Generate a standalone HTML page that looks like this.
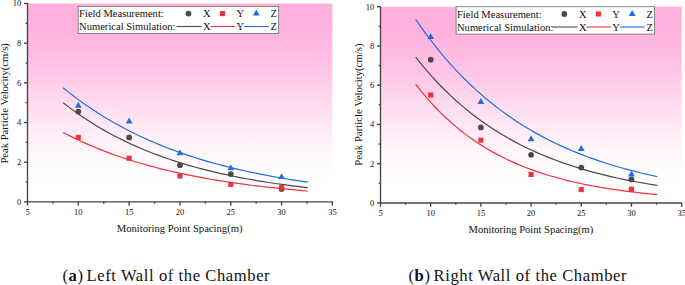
<!DOCTYPE html>
<html><head><meta charset="utf-8"><title>chart</title>
<style>
html,body{margin:0;padding:0;background:#fff;}
body{width:685px;height:285px;overflow:hidden;}
svg{display:block;}
text{font-family:"Liberation Serif",serif;fill:#111;}
</style></head><body>
<svg width="685" height="285" viewBox="0 0 685 285">
<defs>
<linearGradient id="pg" x1="0" y1="0" x2="0" y2="1">
<stop offset="0.0" stop-color="#ffb0dc"/>
<stop offset="0.0625" stop-color="#ffb1dc"/>
<stop offset="0.125" stop-color="#ffb3dd"/>
<stop offset="0.1875" stop-color="#ffb7df"/>
<stop offset="0.25" stop-color="#ffbde2"/>
<stop offset="0.3125" stop-color="#ffc3e5"/>
<stop offset="0.375" stop-color="#ffcbe8"/>
<stop offset="0.4375" stop-color="#ffd3eb"/>
<stop offset="0.5" stop-color="#ffdbef"/>
<stop offset="0.5625" stop-color="#ffe3f2"/>
<stop offset="0.625" stop-color="#ffeaf6"/>
<stop offset="0.6875" stop-color="#fff1f9"/>
<stop offset="0.75" stop-color="#fff7fb"/>
<stop offset="0.8125" stop-color="#fffbfd"/>
<stop offset="0.875" stop-color="#fffefe"/>
<stop offset="0.9375" stop-color="#ffffff"/>
<stop offset="1.0" stop-color="#ffffff"/>
</linearGradient>
</defs>

<g>
<rect x="27.5" y="3.5" width="304.9" height="198.35" fill="url(#pg)"/>
<polyline fill="none" stroke="#4a4a4a" stroke-width="1.2" points="63.07,102.67 68.17,106.61 73.26,110.39 78.36,114.02 83.46,117.5 88.55,120.85 93.65,124.07 98.75,127.15 103.84,130.12 108.94,132.96 114.04,135.7 119.13,138.32 124.23,140.84 129.33,143.26 134.42,145.59 139.52,147.82 144.62,149.97 149.71,152.02 154.81,154 159.9,155.9 165,157.72 170.1,159.47 175.19,161.16 180.29,162.77 185.39,164.32 190.48,165.81 195.58,167.24 200.68,168.61 205.77,169.93 210.87,171.2 215.97,172.42 221.06,173.58 226.16,174.71 231.26,175.78 236.35,176.82 241.45,177.81 246.55,178.76 251.64,179.68 256.74,180.56 261.83,181.41 266.93,182.22 272.03,183 277.12,183.74 282.22,184.46 287.32,185.15 292.41,185.82 297.51,186.45 302.61,187.06 307.7,187.65"/>
<polyline fill="none" stroke="#f0323c" stroke-width="1.2" points="63.07,132.43 68.17,135.06 73.26,137.59 78.36,140.03 83.46,142.38 88.55,144.63 93.65,146.8 98.75,148.89 103.84,150.9 108.94,152.83 114.04,154.69 119.13,156.48 124.23,158.2 129.33,159.86 134.42,161.45 139.52,162.98 144.62,164.45 149.71,165.87 154.81,167.24 159.9,168.55 165,169.81 170.1,171.03 175.19,172.2 180.29,173.32 185.39,174.4 190.48,175.45 195.58,176.45 200.68,177.41 205.77,178.34 210.87,179.23 215.97,180.09 221.06,180.91 226.16,181.71 231.26,182.47 236.35,183.21 241.45,183.91 246.55,184.59 251.64,185.25 256.74,185.88 261.83,186.48 266.93,187.07 272.03,187.63 277.12,188.17 282.22,188.69 287.32,189.18 292.41,189.66 297.51,190.13 302.61,190.57 307.7,191"/>
<polyline fill="none" stroke="#1f6ee0" stroke-width="1.2" points="63.07,87.8 68.17,91.89 73.26,95.84 78.36,99.64 83.46,103.31 88.55,106.85 93.65,110.26 98.75,113.54 103.84,116.71 108.94,119.77 114.04,122.71 119.13,125.55 124.23,128.29 129.33,130.93 134.42,133.48 139.52,135.93 144.62,138.3 149.71,140.58 154.81,142.78 159.9,144.9 165,146.94 170.1,148.91 175.19,150.81 180.29,152.64 185.39,154.41 190.48,156.11 195.58,157.75 200.68,159.34 205.77,160.86 210.87,162.33 215.97,163.75 221.06,165.12 226.16,166.44 231.26,167.71 236.35,168.93 241.45,170.11 246.55,171.25 251.64,172.35 256.74,173.41 261.83,174.43 266.93,175.41 272.03,176.36 277.12,177.28 282.22,178.16 287.32,179.01 292.41,179.83 297.51,180.62 302.61,181.38 307.7,182.12"/>
<circle cx="78.32" cy="111.6" r="2.9" fill="#4a4a4a"/>
<circle cx="129.13" cy="137.39" r="2.9" fill="#4a4a4a"/>
<circle cx="179.95" cy="165.16" r="2.9" fill="#4a4a4a"/>
<circle cx="230.77" cy="174.08" r="2.9" fill="#4a4a4a"/>
<circle cx="281.58" cy="188.96" r="2.9" fill="#4a4a4a"/>
<rect x="75.77" y="134.84" width="5.1" height="5.1" fill="#f0323c"/>
<rect x="126.58" y="155.66" width="5.1" height="5.1" fill="#f0323c"/>
<rect x="177.4" y="173.51" width="5.1" height="5.1" fill="#f0323c"/>
<rect x="228.22" y="181.85" width="5.1" height="5.1" fill="#f0323c"/>
<rect x="279.03" y="185.02" width="5.1" height="5.1" fill="#f0323c"/>
<polygon points="78.32,101.75 74.92,107.65 81.72,107.65" fill="#1f6ee0"/>
<polygon points="129.13,117.62 125.73,123.52 132.53,123.52" fill="#1f6ee0"/>
<polygon points="179.95,149.35 176.55,155.25 183.35,155.25" fill="#1f6ee0"/>
<polygon points="230.77,164.23 227.37,170.13 234.17,170.13" fill="#1f6ee0"/>
<polygon points="281.58,173.16 278.18,179.06 284.98,179.06" fill="#1f6ee0"/>
<g stroke="#444" stroke-width="1.35" fill="none">
<line x1="27.5" y1="3" x2="27.5" y2="202.35"/>
<line x1="27" y1="201.85" x2="332.9" y2="201.85"/>
<line x1="24" y1="201.85" x2="27.5" y2="201.85"/>
<line x1="25.7" y1="182.01" x2="27.5" y2="182.01"/>
<line x1="24" y1="162.18" x2="27.5" y2="162.18"/>
<line x1="25.7" y1="142.34" x2="27.5" y2="142.34"/>
<line x1="24" y1="122.51" x2="27.5" y2="122.51"/>
<line x1="25.7" y1="102.67" x2="27.5" y2="102.67"/>
<line x1="24" y1="82.84" x2="27.5" y2="82.84"/>
<line x1="25.7" y1="63" x2="27.5" y2="63"/>
<line x1="24" y1="43.17" x2="27.5" y2="43.17"/>
<line x1="25.7" y1="23.33" x2="27.5" y2="23.33"/>
<line x1="24" y1="3.5" x2="27.5" y2="3.5"/>
<line x1="27.5" y1="201.85" x2="27.5" y2="205.65"/>
<line x1="52.91" y1="201.85" x2="52.91" y2="203.65"/>
<line x1="78.32" y1="201.85" x2="78.32" y2="205.65"/>
<line x1="103.72" y1="201.85" x2="103.72" y2="203.65"/>
<line x1="129.13" y1="201.85" x2="129.13" y2="205.65"/>
<line x1="154.54" y1="201.85" x2="154.54" y2="203.65"/>
<line x1="179.95" y1="201.85" x2="179.95" y2="205.65"/>
<line x1="205.36" y1="201.85" x2="205.36" y2="203.65"/>
<line x1="230.77" y1="201.85" x2="230.77" y2="205.65"/>
<line x1="256.17" y1="201.85" x2="256.17" y2="203.65"/>
<line x1="281.58" y1="201.85" x2="281.58" y2="205.65"/>
<line x1="306.99" y1="201.85" x2="306.99" y2="203.65"/>
<line x1="332.4" y1="201.85" x2="332.4" y2="205.65"/>
</g>
<g font-size="8.5">
<text x="21.2" y="204.7" text-anchor="end">0</text>
<text x="21.2" y="165.03" text-anchor="end">2</text>
<text x="21.2" y="125.36" text-anchor="end">4</text>
<text x="21.2" y="85.69" text-anchor="end">6</text>
<text x="21.2" y="46.02" text-anchor="end">8</text>
<text x="21.2" y="6.35" text-anchor="end">10</text>
<text x="27.5" y="215.15" text-anchor="middle">5</text>
<text x="78.32" y="215.15" text-anchor="middle">10</text>
<text x="129.13" y="215.15" text-anchor="middle">15</text>
<text x="179.95" y="215.15" text-anchor="middle">20</text>
<text x="230.77" y="215.15" text-anchor="middle">25</text>
<text x="281.58" y="215.15" text-anchor="middle">30</text>
<text x="332.4" y="215.15" text-anchor="middle">35</text>
</g>
<text transform="translate(179.6,232.2) scale(1,1.07)" font-size="10.65" text-anchor="middle">Monitoring Point Spacing(m)</text>
<text transform="translate(7.8,103.4) rotate(-90)" font-size="10.6" text-anchor="middle">Peak Particle Velocity(cm/s)</text>
<rect x="78.2" y="6.4" width="200.4" height="27.1" fill="#fff" stroke="#7a7a7a" stroke-width="0.9"/>
<g font-size="10.55">
<text x="79.1" y="16.95">Field Measurement:</text>
<text x="79.1" y="30.05">Numerical Simulation:</text>
<text x="203.1" y="16.95">X</text>
<text x="203.1" y="30.05">X</text>
<text x="236.4" y="16.95">Y</text>
<text x="236.4" y="30.05">Y</text>
<text x="270.6" y="16.95">Z</text>
<text x="270.6" y="30.05">Z</text>
</g>
<circle cx="188.4" cy="13.6" r="2.9" fill="#4a4a4a"/>
<rect x="219.95" y="11.05" width="5.1" height="5.1" fill="#f0323c"/>
<polygon points="256.3,9.6 252.9,15.5 259.7,15.5" fill="#1f6ee0"/>
<line x1="176.4" y1="26.5" x2="201.6" y2="26.5" stroke="#4a4a4a" stroke-width="1.1"/>
<line x1="210.6" y1="26.5" x2="234.8" y2="26.5" stroke="#f0323c" stroke-width="1.1"/>
<line x1="244.2" y1="26.5" x2="268.7" y2="26.5" stroke="#1f6ee0" stroke-width="1.1"/>
<text x="62.4" y="281.1" font-size="16.6" letter-spacing="0.58">(<tspan font-weight="bold">a</tspan>)<tspan dx="-1.7"> Left Wall of the Chamber</tspan></text>
</g>
<g>
<rect x="380.5" y="6.7" width="301.15" height="196.25" fill="url(#pg)"/>
<polyline fill="none" stroke="#4a4a4a" stroke-width="1.2" points="415.63,57.14 420.67,63.43 425.7,69.45 430.74,75.21 435.77,80.72 440.8,85.99 445.84,91.04 450.87,95.87 455.9,100.49 460.94,104.91 465.97,109.14 471.01,113.19 476.04,117.06 481.07,120.77 486.11,124.31 491.14,127.7 496.18,130.95 501.21,134.06 506.24,137.03 511.28,139.87 516.31,142.6 521.34,145.2 526.38,147.69 531.41,150.08 536.45,152.36 541.48,154.54 546.51,156.63 551.55,158.63 556.58,160.54 561.61,162.37 566.65,164.12 571.68,165.8 576.72,167.4 581.75,168.93 586.78,170.4 591.82,171.81 596.85,173.15 601.88,174.43 606.92,175.66 611.95,176.84 616.99,177.97 622.02,179.05 627.05,180.08 632.09,181.06 637.12,182.01 642.16,182.91 647.19,183.78 652.22,184.6 657.26,185.4"/>
<polyline fill="none" stroke="#f0323c" stroke-width="1.2" points="415.63,84.22 420.67,90.6 425.7,96.64 430.74,102.35 435.77,107.76 440.8,112.88 445.84,117.72 450.87,122.3 455.9,126.63 460.94,130.73 465.97,134.62 471.01,138.29 476.04,141.76 481.07,145.05 486.11,148.16 491.14,151.11 496.18,153.89 501.21,156.53 506.24,159.03 511.28,161.39 516.31,163.62 521.34,165.73 526.38,167.73 531.41,169.63 536.45,171.42 541.48,173.11 546.51,174.72 551.55,176.23 556.58,177.67 561.61,179.03 566.65,180.31 571.68,181.53 576.72,182.68 581.75,183.77 586.78,184.8 591.82,185.78 596.85,186.7 601.88,187.57 606.92,188.4 611.95,189.18 616.99,189.92 622.02,190.62 627.05,191.29 632.09,191.91 637.12,192.51 642.16,193.07 647.19,193.6 652.22,194.1 657.26,194.58"/>
<polyline fill="none" stroke="#1f6ee0" stroke-width="1.2" points="415.63,19.26 420.67,26.54 425.7,33.54 430.74,40.26 435.77,46.71 440.8,52.9 445.84,58.85 450.87,64.56 455.9,70.05 460.94,75.32 465.97,80.38 471.01,85.24 476.04,89.91 481.07,94.39 486.11,98.7 491.14,102.83 496.18,106.8 501.21,110.61 506.24,114.27 511.28,117.79 516.31,121.17 521.34,124.41 526.38,127.52 531.41,130.51 536.45,133.39 541.48,136.14 546.51,138.79 551.55,141.34 556.58,143.78 561.61,146.13 566.65,148.38 571.68,150.54 576.72,152.62 581.75,154.62 586.78,156.53 591.82,158.37 596.85,160.14 601.88,161.84 606.92,163.47 611.95,165.03 616.99,166.54 622.02,167.98 627.05,169.37 632.09,170.7 637.12,171.98 642.16,173.21 647.19,174.39 652.22,175.52 657.26,176.61"/>
<circle cx="430.69" cy="59.69" r="2.9" fill="#4a4a4a"/>
<circle cx="480.88" cy="127.39" r="2.9" fill="#4a4a4a"/>
<circle cx="531.08" cy="154.87" r="2.9" fill="#4a4a4a"/>
<circle cx="581.27" cy="167.62" r="2.9" fill="#4a4a4a"/>
<circle cx="631.46" cy="179.4" r="2.9" fill="#4a4a4a"/>
<rect x="428.14" y="92.46" width="5.1" height="5.1" fill="#f0323c"/>
<rect x="478.33" y="137.6" width="5.1" height="5.1" fill="#f0323c"/>
<rect x="528.53" y="171.94" width="5.1" height="5.1" fill="#f0323c"/>
<rect x="578.72" y="187.05" width="5.1" height="5.1" fill="#f0323c"/>
<rect x="628.91" y="186.66" width="5.1" height="5.1" fill="#f0323c"/>
<polygon points="430.69,33.22 427.29,39.12 434.09,39.12" fill="#1f6ee0"/>
<polygon points="480.88,97.98 477.48,103.88 484.28,103.88" fill="#1f6ee0"/>
<polygon points="531.08,135.27 527.68,141.17 534.48,141.17" fill="#1f6ee0"/>
<polygon points="581.27,145.08 577.87,150.98 584.67,150.98" fill="#1f6ee0"/>
<polygon points="631.46,170.59 628.06,176.49 634.86,176.49" fill="#1f6ee0"/>
<g stroke="#444" stroke-width="1.35" fill="none">
<line x1="380.5" y1="6.2" x2="380.5" y2="203.45"/>
<line x1="380" y1="202.95" x2="682.15" y2="202.95"/>
<line x1="377" y1="202.95" x2="380.5" y2="202.95"/>
<line x1="378.7" y1="183.32" x2="380.5" y2="183.32"/>
<line x1="377" y1="163.7" x2="380.5" y2="163.7"/>
<line x1="378.7" y1="144.07" x2="380.5" y2="144.07"/>
<line x1="377" y1="124.45" x2="380.5" y2="124.45"/>
<line x1="378.7" y1="104.82" x2="380.5" y2="104.82"/>
<line x1="377" y1="85.2" x2="380.5" y2="85.2"/>
<line x1="378.7" y1="65.57" x2="380.5" y2="65.57"/>
<line x1="377" y1="45.95" x2="380.5" y2="45.95"/>
<line x1="378.7" y1="26.32" x2="380.5" y2="26.32"/>
<line x1="377" y1="6.7" x2="380.5" y2="6.7"/>
<line x1="380.5" y1="202.95" x2="380.5" y2="206.75"/>
<line x1="405.6" y1="202.95" x2="405.6" y2="204.75"/>
<line x1="430.69" y1="202.95" x2="430.69" y2="206.75"/>
<line x1="455.79" y1="202.95" x2="455.79" y2="204.75"/>
<line x1="480.88" y1="202.95" x2="480.88" y2="206.75"/>
<line x1="505.98" y1="202.95" x2="505.98" y2="204.75"/>
<line x1="531.08" y1="202.95" x2="531.08" y2="206.75"/>
<line x1="556.17" y1="202.95" x2="556.17" y2="204.75"/>
<line x1="581.27" y1="202.95" x2="581.27" y2="206.75"/>
<line x1="606.36" y1="202.95" x2="606.36" y2="204.75"/>
<line x1="631.46" y1="202.95" x2="631.46" y2="206.75"/>
<line x1="656.55" y1="202.95" x2="656.55" y2="204.75"/>
<line x1="681.65" y1="202.95" x2="681.65" y2="206.75"/>
</g>
<g font-size="8.5">
<text x="374.2" y="205.8" text-anchor="end">0</text>
<text x="374.2" y="166.55" text-anchor="end">2</text>
<text x="374.2" y="127.3" text-anchor="end">4</text>
<text x="374.2" y="88.05" text-anchor="end">6</text>
<text x="374.2" y="48.8" text-anchor="end">8</text>
<text x="374.2" y="9.55" text-anchor="end">10</text>
<text x="380.5" y="216.35" text-anchor="middle">5</text>
<text x="430.69" y="216.35" text-anchor="middle">10</text>
<text x="480.88" y="216.35" text-anchor="middle">15</text>
<text x="531.08" y="216.35" text-anchor="middle">20</text>
<text x="581.27" y="216.35" text-anchor="middle">25</text>
<text x="631.46" y="216.35" text-anchor="middle">30</text>
<text x="681.65" y="216.35" text-anchor="middle">35</text>
</g>
<text transform="translate(530.9,232.9) scale(1,1.07)" font-size="10.55" text-anchor="middle">Monitoring Point Spacing(m)</text>
<text transform="translate(361.8,104.6) rotate(-90)" font-size="10.75" text-anchor="middle">Peak Particle Velocity(cm/s)</text>
<rect x="456.1" y="6.7" width="198.4" height="27.4" fill="#fff" stroke="#7a7a7a" stroke-width="0.9"/>
<g font-size="10.55">
<text x="457" y="17.8">Field Measurement:</text>
<text x="457" y="30.8">Numerical Simulation:</text>
<text x="579" y="17.8">X</text>
<text x="579" y="30.8">X</text>
<text x="612.3" y="17.8">Y</text>
<text x="612.3" y="30.8">Y</text>
<text x="646.5" y="17.8">Z</text>
<text x="646.5" y="30.8">Z</text>
</g>
<circle cx="564.3" cy="14" r="2.9" fill="#4a4a4a"/>
<rect x="595.85" y="11.45" width="5.1" height="5.1" fill="#f0323c"/>
<polygon points="632.2,10 628.8,15.9 635.6,15.9" fill="#1f6ee0"/>
<line x1="552.3" y1="27" x2="577.5" y2="27" stroke="#4a4a4a" stroke-width="1.1"/>
<line x1="586.5" y1="27" x2="610.7" y2="27" stroke="#f0323c" stroke-width="1.1"/>
<line x1="620.1" y1="27" x2="644.6" y2="27" stroke="#1f6ee0" stroke-width="1.1"/>
<text x="408.5" y="281.1" font-size="16.6" letter-spacing="0.58">(<tspan font-weight="bold">b</tspan>)<tspan dx="-1.7"> Right Wall of the Chamber</tspan></text>
</g>
</svg></body></html>
